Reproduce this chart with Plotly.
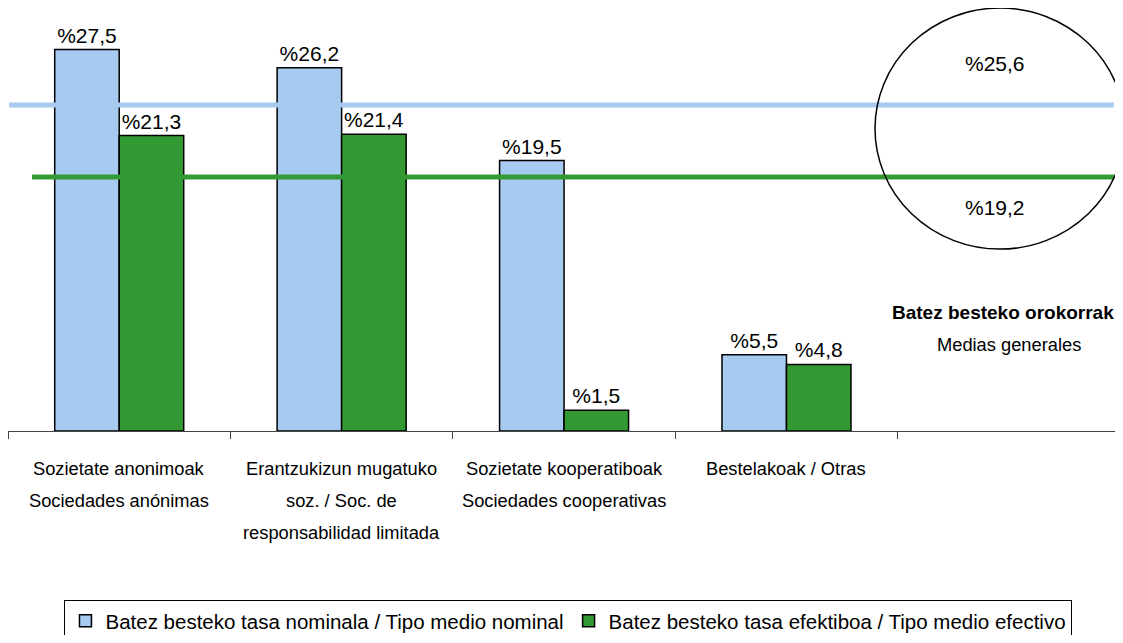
import plotly.graph_objects as go

# ---- data ----
categories = ["Sozietate anonimoak", "Erantzukizun mugatuko", "Sozietate kooperatiboak", "Bestelakoak", "Medias generales"]
category_label_lines = [
    ["Sozietate anonimoak", "Sociedades anónimas"],
    ["Erantzukizun mugatuko", "soz. / Soc. de", "responsabilidad limitada"],
    ["Sozietate kooperatiboak", "Sociedades cooperativas"],
    ["Bestelakoak / Otras"],
    [],
]
nominal = [27.5, 26.2, 19.5, 5.5]
effective = [21.3, 21.4, 1.5, 4.8]
avg_nominal = 25.6
avg_effective = 19.2
series_names = ["Batez besteko tasa nominala / Tipo medio nominal",
                "Batez besteko tasa efektiboa / Tipo medio efectivo"]
avg_title = "Batez besteko orokorrak"
avg_subtitle = "Medias generales"

BLUE = "#A6CAF0"
GREEN = "#339933"
FONT = "Liberation Sans, Arial, sans-serif"
# page has an 8px body margin; keep the figure inside the viewport
W, H = 1107, 627


def pct(v):
    return "%" + f"{v:.1f}".replace(".", ",")


fig = go.Figure()

fig.add_trace(go.Bar(x=categories[:4], y=nominal, name=series_names[0],
                     marker=dict(color=BLUE, line=dict(color="black", width=1.5)),
                     text=[pct(v) for v in nominal], textposition="outside",
                     textfont=dict(family=FONT, size=21, color="black"), cliponaxis=False))
fig.add_trace(go.Bar(x=categories[:4], y=effective, name=series_names[1],
                     marker=dict(color=GREEN, line=dict(color="black", width=1.5)),
                     text=[pct(v) for v in effective], textposition="outside",
                     textfont=dict(family=FONT, size=21, color="black"), cliponaxis=False))

# average lines (own overlaid scale, spanning the plot width)
fig.add_trace(go.Scatter(x=[0.001, 0.999], y=[avg_nominal, avg_nominal], xaxis="x2", yaxis="y2",
                         mode="lines", line=dict(color=BLUE, width=5), showlegend=False,
                         hoverinfo="skip"))
fig.add_trace(go.Scatter(x=[0.0217, 0.999], y=[avg_effective, avg_effective], xaxis="x2", yaxis="y2",
                         mode="lines", line=dict(color=GREEN, width=5), showlegend=False,
                         hoverinfo="skip"))

# ellipse around averages
fig.add_shape(type="circle", xref="paper", yref="paper", x0=0.7832, x1=1.009,
              y0=0.430, y1=1.0, line=dict(color="black", width=1.5), layer="above")

annotations = []
annotations.append(dict(x=categories[4], y=avg_nominal, xref="x", yref="y2", yshift=42, xshift=-14,
                        text=pct(avg_nominal), showarrow=False,
                        font=dict(family=FONT, size=21, color="black")))
annotations.append(dict(x=categories[4], y=avg_effective, xref="x", yref="y2", yshift=-30, xshift=-14,
                        text=pct(avg_effective), showarrow=False,
                        font=dict(family=FONT, size=21, color="black")))
annotations.append(dict(x=categories[4], y=0, xref="x", yref="paper", yshift=106, xshift=-6,
                        text="<b>" + avg_title + "</b>", showarrow=False,
                        font=dict(family=FONT, size=19, color="black")))
annotations.append(dict(x=categories[4], y=0, xref="x", yref="paper", yshift=74,
                        text=avg_subtitle, showarrow=False,
                        font=dict(family=FONT, size=18.3, color="black")))
for cat, lines in zip(categories, category_label_lines):
    for i, line in enumerate(lines):
        annotations.append(dict(x=cat, y=0, xref="x", yref="paper", yanchor="middle",
                                yshift=-(37 + 32 * i), text=line, showarrow=False,
                                font=dict(family=FONT, size=18.3, color="black")))

fig.update_layout(
    width=W, height=H,
    margin=dict(l=0, r=0, t=0, b=204, autoexpand=False),
    paper_bgcolor="white", plot_bgcolor="white",
    barmode="group", bargap=0.42, bargroupgap=0,
    annotations=annotations,
    legend=dict(orientation="h", x=0.5063, xanchor="center", yref="container",
                y=(H - 592) / H, yanchor="top",
                bordercolor="black", borderwidth=1,
                font=dict(family=FONT, size=20.5, color="black"),
                itemwidth=30, tracegroupgap=0),
    showlegend=True,
    xaxis=dict(type="category", categoryorder="array", categoryarray=categories,
               range=[-0.5, 4.477], showticklabels=False, ticks="outside", ticklen=7,
               tickson="boundaries", tickcolor="#444", showline=True, linecolor="#444",
               linewidth=1, showgrid=False, zeroline=False),
    yaxis=dict(range=[0, 30.5], visible=False, showgrid=False),
    xaxis2=dict(overlaying="x", range=[0, 1], visible=False, showgrid=False),
    yaxis2=dict(overlaying="y", range=[-3.378, 34.222], visible=False, showgrid=False),
)

fig.write_html("out.html")
